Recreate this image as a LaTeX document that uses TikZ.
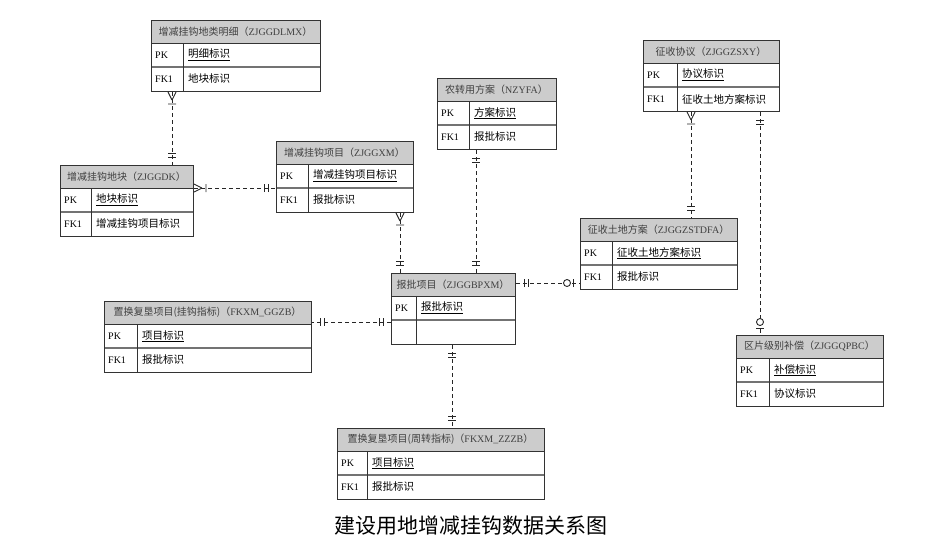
\documentclass[tikz,border=0pt]{standalone}
\usepackage{fontspec}
\setmainfont{Liberation Serif}
\newfontfamily\cjk{Noto Sans CJK SC}
\usepackage{tikz}
\usetikzlibrary{positioning, decorations.markings}

\tikzset{
  tbox/.style={draw=black!80, line width=1pt, inner sep=0pt},
  hdfill/.style={fill=black!20},
  rowline/.style={draw=black!80, line width=0.7pt},
  rowsep/.style={draw=black!55, line width=1.6pt},
  hdtext/.style={text=black!75, font=\fontsize{10}{12}\selectfont, inner sep=0pt},
  keytext/.style={anchor=west, font=\fontsize{10}{12}\selectfont, inner sep=0pt},
  fldtext/.style={anchor=west, font=\cjk\fontsize{10.5}{12}\selectfont, inner sep=0pt},
  conn/.style={draw=black!85, line width=0.9pt, dash pattern=on 4pt off 3pt},
  many start/.style={postaction={decorate, decoration={markings,
    mark=at position 8pt with {\draw[solid] (0,0) -- (-8pt,4pt) (0,0) -- (-8pt,-4pt) (4pt,-4pt) -- (4pt,4pt);}}}},
  one start/.style={postaction={decorate, decoration={markings,
    mark=at position 8pt with {\draw[solid] (0,-4pt) -- (0,4pt) (4pt,-4pt) -- (4pt,4pt);}}}},
  one end/.style={postaction={decorate, decoration={markings,
    mark=at position -8pt with {\draw[solid] (0,-4pt) -- (0,4pt) (-4pt,-4pt) -- (-4pt,4pt);}}}},
  zone end/.style={postaction={decorate, decoration={markings,
    mark=at position -7pt with {\draw[solid] (0,-4pt) -- (0,4pt); \draw[solid, fill=white] (-6pt,0) circle (3.5pt);}}}}
}

% #1 name, #2 left, #3 top, #4 width, #5 key column, #6 header, #7 pk field, #8 fk key, #9 fk field
\newcommand{\ertable}[9]{%
  \fill[hdfill] (#2,#3) rectangle ++(#4,23);
  \draw[rowline] (#2,#3+23) -- ++(#4,0);
  \draw[rowsep] (#2,#3+47) -- ++(#4,0);
  \draw[rowline] (#2+#5,#3+23) -- (#2+#5,#3+71);
  \node[tbox, minimum width=#4pt, minimum height=71pt, anchor=north west] (#1) at (#2,#3) {};
  \node[hdtext] (#1-hd) at (#2+#4/2,#3+11.5) {#6};
  \node[keytext] (#1-pk) at (#2+4,#3+35) {PK};
  \node[fldtext] (#1-pkf) at (#2+#5+5,#3+35) {\underline{#7}};
  \node[keytext] (#1-fk) at (#2+4,#3+59) {#8};
  \node[fldtext] (#1-fkf) at (#2+#5+5,#3+59) {#9};
}
\newcommand{\hd}[2]{{\cjk #1（}#2{\cjk ）}}

\begin{document}
\begin{tikzpicture}[x=1pt, y=-1pt]
\useasboundingbox (0,0) rectangle (925,542);

% tables
\ertable{dlmx}{151}{20}{169}{32}{\hd{增减挂钩地类明细}{ZJGGDLMX}}{明细标识}{FK1}{地块标识}
\ertable{dk}{60}{165}{133}{31}{\hd{增减挂钩地块}{ZJGGDK}}{地块标识}{FK1}{增减挂钩项目标识}
\ertable{xm}{276}{141}{137}{32}{\hd{增减挂钩项目}{ZJGGXM}}{增减挂钩项目标识}{FK1}{报批标识}
\ertable{yfa}{437}{78}{119}{32}{\hd{农转用方案}{NZYFA}}{方案标识}{FK1}{报批标识}
\ertable{sxy}{643}{40}{136}{34}{\hd{征收协议}{ZJGGZSXY}}{协议标识}{FK1}{征收土地方案标识}
\ertable{stdfa}{580}{218}{157}{32}{\hd{征收土地方案}{ZJGGZSTDFA}}{征收土地方案标识}{FK1}{报批标识}
\ertable{bp}{391}{273}{124}{25}{\hd{报批项目}{ZJGGBPXM}}{报批标识}{}{}
\ertable{ggzb}{104}{301}{207}{33}{\hd{置换复垦项目(挂钩指标)}{FKXM\_GGZB}}{项目标识}{FK1}{报批标识}
\ertable{qpbc}{736}{335}{147}{33}{\hd{区片级别补偿}{ZJGGQPBC}}{补偿标识}{FK1}{协议标识}
\ertable{zzzb}{337}{428}{207}{30}{\hd{置换复垦项目(周转指标)}{FKXM\_ZZZB}}{项目标识}{FK1}{报批标识}

% connector ends
\coordinate (c1) at ([xshift=21pt]dlmx.south west);
\coordinate (c2) at ([yshift=-23pt]dk.north east);
\coordinate (c3) at ([xshift=124pt]xm.south west);
\coordinate (c4) at ([xshift=39pt]yfa.south west);
\coordinate (c5) at ([yshift=-10pt]bp.north east);
\coordinate (c6) at ([xshift=48pt]sxy.south west);
\coordinate (c7) at ([xshift=117pt]sxy.south west);
\coordinate (c8) at ([yshift=-49pt]bp.north west);
\coordinate (c9) at ([xshift=61pt]bp.south west);

% relations
\draw[conn, many start, one end] (c1) -- (c1 |- dk.north);
\draw[conn, many start, one end] (c2) -- (c2 -| xm.west);
\draw[conn, many start, one end] (c3) -- (c3 |- bp.north);
\draw[conn, one start, one end] (c4) -- (c4 |- bp.north);
\draw[conn, one start, zone end] (c5) -- (c5 -| stdfa.west);
\draw[conn, many start, one end] (c6) -- (c6 |- stdfa.north);
\draw[conn, one start, zone end] (c7) -- (c7 |- qpbc.north);
\draw[conn, one start, one end] (c8) -- (c8 -| ggzb.east);
\draw[conn, one start, one end] (c9) -- (c9 |- zzzb.north);

\node[font=\cjk\fontsize{21}{25}\selectfont] (title) at (471,526) {建设用地增减挂钩数据关系图};
\end{tikzpicture}
\end{document}
